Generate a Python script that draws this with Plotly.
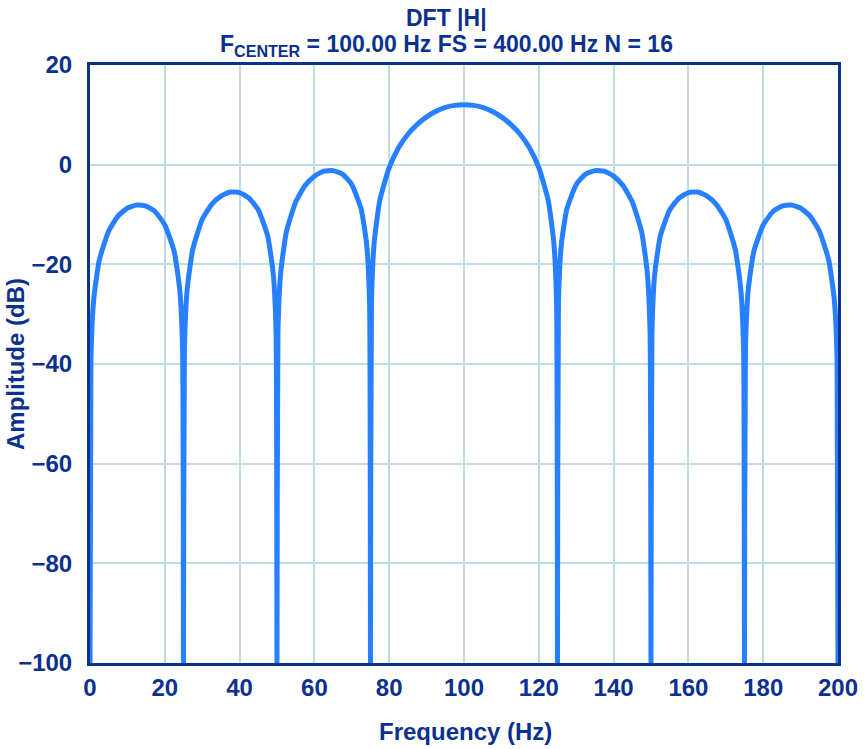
import plotly.graph_objects as go

# Frequency samples (Hz) and amplitude (dB)
freq_hz = [
    0, 0.25, 1, 2.5, 5, 7.5, 10, 12.5, 15, 17.5, 20, 22.5, 24, 24.75, 25,
    25.25, 26, 27.5, 30, 32.5, 35, 37.5, 40, 42.5, 45, 47.5, 49, 49.75, 50,
    50.25, 51, 52.5, 55, 57.5, 60, 62.5, 65, 67.5, 70, 72.5, 74, 74.75, 75,
    75.25, 76, 77.5, 80, 82.5, 85, 87.5, 90, 92.5, 95, 97.5, 100,
    102.5, 105, 107.5, 110, 112.5, 115, 117.5, 120, 122.5, 124, 124.75, 125,
    125.25, 126, 127.5, 130, 132.5, 135, 137.5, 140, 142.5, 145, 147.5, 149, 149.75, 150,
    150.25, 151, 152.5, 155, 157.5, 160, 162.5, 165, 167.5, 170, 172.5, 174, 174.75, 175,
    175.25, 176, 177.5, 180, 182.5, 185, 187.5, 190, 192.5, 195, 197.5, 199, 199.75, 200,
]
amplitude_db = [
    -100, -39.1, -27.0, -19.1, -13.3, -10.3, -8.7, -8.1, -8.3, -9.5, -12.1, -17.4, -25.1, -37.0, -100,
    -37.0, -24.9, -16.9, -11.0, -8.0, -6.3, -5.5, -5.6, -6.7, -9.1, -14.3, -21.9, -33.8, -100,
    -33.7, -21.6, -13.5, -7.5, -4.2, -2.3, -1.3, -1.2, -1.9, -4.0, -8.9, -16.2, -28.0, -100,
    -27.8, -15.5, -7.1, -0.6, 3.4, 6.1, 8.1, 9.6, 10.7, 11.5, 11.9, 12.0,
    11.9, 11.5, 10.7, 9.6, 8.1, 6.1, 3.4, -0.6, -7.1, -15.5, -27.8, -100,
    -28.0, -16.2, -8.9, -4.0, -1.9, -1.2, -1.3, -2.3, -4.2, -7.5, -13.5, -21.6, -33.7, -100,
    -33.8, -21.9, -14.3, -9.1, -6.7, -5.6, -5.5, -6.3, -8.0, -11.0, -16.9, -24.9, -37.0, -100,
    -37.0, -25.1, -17.4, -12.1, -9.5, -8.3, -8.1, -8.7, -10.3, -13.3, -19.1, -27.0, -39.1, -100,
]

x_ticks = [0, 20, 40, 60, 80, 100, 120, 140, 160, 180, 200]
y_ticks = [20, 0, -20, -40, -60, -80, -100]

title_line1 = "DFT |H|"
title_line2 = "F<sub>CENTER</sub> = 100.00 Hz FS = 400.00 Hz N = 16"
x_title = "Frequency (Hz)"
y_title = "Amplitude (dB)"

NAVY = "#0b318f"
LINE = "#2680ff"
GRID = "#bcdde6"
FONT = "Liberation Sans, Arial, sans-serif"

W, H = 864, 749
ML, MR, MT, MB = 90, 26, 65, 86
PW, PH = W - ML - MR, H - MT - MB


def px_to_paper_x(px):
    return (px - ML) / PW


def px_to_paper_y(py):
    return (H - MB - py) / PH


fig = go.Figure()
fig.add_trace(go.Scatter(
    x=freq_hz, y=amplitude_db, mode="lines",
    line=dict(color=LINE, width=5, shape="spline", smoothing=0.5),
    hoverinfo="skip", showlegend=False,
))

fig.update_layout(
    width=W, height=H,
    margin=dict(l=ML, r=MR, t=MT, b=MB, autoexpand=False),
    paper_bgcolor="white", plot_bgcolor="white",
    font=dict(family=FONT, color=NAVY, size=24),
    xaxis=dict(
        range=[0, 200], tickvals=x_ticks,
        ticktext=[f"<b>{v}</b>" for v in x_ticks],
        showgrid=True, gridcolor=GRID, gridwidth=2,
        showline=True, linecolor=NAVY, linewidth=3, mirror=True,
        zeroline=False, ticks="", ticklabelstandoff=1, automargin=False,
        tickfont=dict(family=FONT, color=NAVY, size=24),
    ),
    yaxis=dict(
        range=[-100, 20], tickvals=y_ticks,
        ticktext=[f"<b>{v}</b>".replace("-", "\u2212") for v in y_ticks],
        showgrid=True, gridcolor=GRID, gridwidth=2,
        showline=True, linecolor=NAVY, linewidth=3, mirror=True,
        zeroline=False, ticks="", ticklabelstandoff=10, automargin=False,
        tickfont=dict(family=FONT, color=NAVY, size=24),
    ),
)

common = dict(xref="paper", yref="paper", showarrow=False)
tfont = dict(family=FONT, color=NAVY, size=23)
afont = dict(family=FONT, color=NAVY, size=24)
fig.add_annotation(text=f"<b>{title_line1}</b>", x=px_to_paper_x(446),
                   y=px_to_paper_y(18), xanchor="center", yanchor="middle",
                   font=tfont, **common)
fig.add_annotation(text=f"<b>{title_line2}</b>", x=px_to_paper_x(446),
                   y=px_to_paper_y(46), xanchor="center", yanchor="middle",
                   font=tfont, **common)
fig.add_annotation(text=f"<b>{x_title}</b>", x=px_to_paper_x(465),
                   y=px_to_paper_y(731), xanchor="center", yanchor="middle",
                   font=afont, **common)
fig.add_annotation(text=f"<b>{y_title}</b>", x=px_to_paper_x(15),
                   y=0.5, xanchor="center", yanchor="middle", textangle=-90,
                   font=afont, **common)

# remove the default 8px page margin so the figure fills the window exactly
fig.write_html("out.html", config={"displayModeBar": False},
               post_script="document.body.style.margin='0';")
